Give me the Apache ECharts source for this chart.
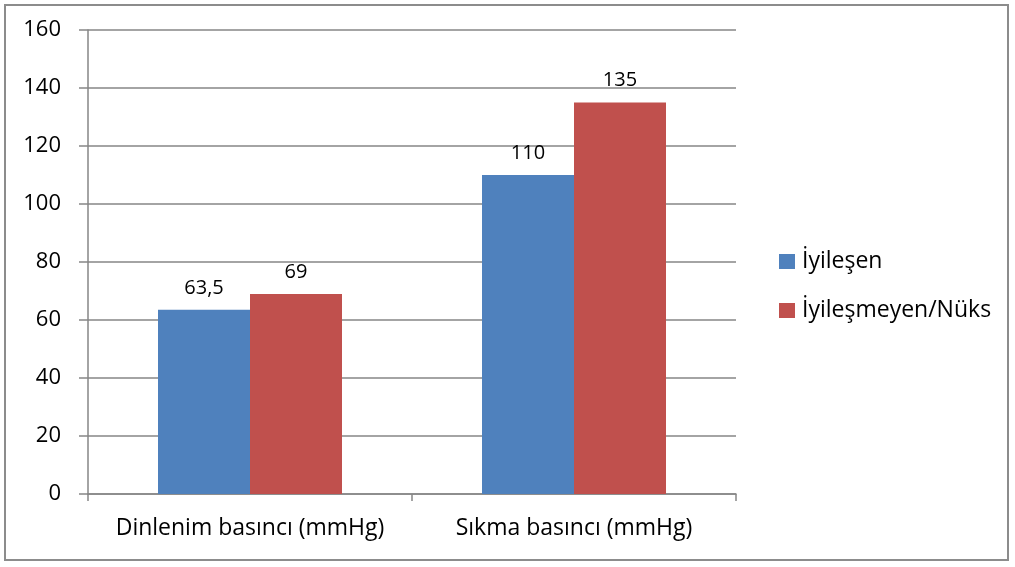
<!DOCTYPE html>
<html>
<head>
<meta charset="utf-8">
<script src="https://cdn.jsdelivr.net/npm/echarts@6/dist/echarts.min.js"></script>
<style>
  html, body { margin: 0; padding: 0; background: #fff; }
  #frame { position: absolute; left: 4px; top: 4px; width: 1005px; height: 557px; border: 2px solid #8c8c8c; box-sizing: border-box; }
  #chart { position: absolute; left: 0; top: 0; width: 1015px; height: 567px; }
</style>
</head>
<body>
<div id="frame"></div>
<div id="chart"></div>
<script>
const categories = ['Dinlenim basıncı (mmHg)', 'Sıkma basıncı (mmHg)'];
const healed = [63.5, 110];
const relapse = [69, 135];
const seriesNames = ['İyileşen', 'İyileşmeyen/Nüks'];
const yTicks = { min: 0, max: 160, interval: 20 };

const FONT = '"Open Sans", Lato, sans-serif';
const gridColor = '#868686';

const chart = echarts.init(document.getElementById('chart'), null, { renderer: 'canvas' });

const labelStyle = {
  show: true,
  position: 'top',
  distance: 12,
  color: '#000',
  fontSize: 20,
  fontFamily: FONT,
  formatter: p => String(p.value).replace('.', ',')
};

chart.setOption({
  animation: false,
  backgroundColor: 'transparent',
  grid: { left: 88, right: 279, top: 30, bottom: 73, containLabel: false },
  legend: {
    orient: 'vertical',
    left: 774,
    top: 244,
    itemWidth: 16,
    itemHeight: 15,
    itemGap: 24,
    icon: 'rect',
    textStyle: { fontSize: 23, lineHeight: 25, fontFamily: FONT, color: '#000', padding: [0, 0, 0, 2] },
    data: seriesNames
  },
  xAxis: {
    type: 'category',
    data: categories,
    axisLine: { lineStyle: { color: gridColor, width: 1.5 } },
    axisTick: { show: true, alignWithLabel: false, length: 7, lineStyle: { color: gridColor, width: 1.5 } },
    axisLabel: { interval: 0, fontSize: 23, fontFamily: FONT, color: '#000', margin: 23 }
  },
  yAxis: {
    type: 'value',
    min: yTicks.min,
    max: yTicks.max,
    interval: yTicks.interval,
    axisLine: { show: true, lineStyle: { color: gridColor, width: 1.5 } },
    axisTick: { show: true, length: 9, lineStyle: { color: gridColor, width: 1.5 } },
    splitLine: { lineStyle: { color: gridColor, width: 1.5 } },
    axisLabel: { fontSize: 22, fontFamily: FONT, color: '#000', margin: 27 }
  },
  series: [
    {
      name: seriesNames[0],
      type: 'bar',
      data: healed,
      barWidth: 92,
      barGap: '0%',
      itemStyle: { color: '#4F81BD' },
      label: labelStyle
    },
    {
      name: seriesNames[1],
      type: 'bar',
      data: relapse,
      barWidth: 92,
      barGap: '0%',
      itemStyle: { color: '#C0504D' },
      label: labelStyle
    }
  ]
});
</script>
</body>
</html>
